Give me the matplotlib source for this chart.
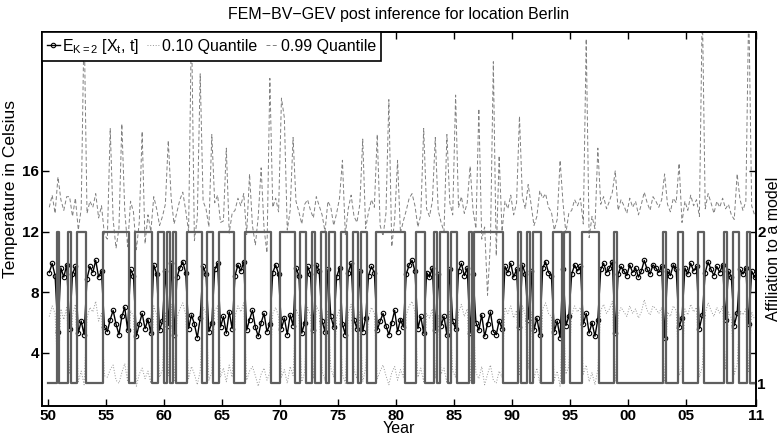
import matplotlib
matplotlib.use("Agg")
import matplotlib.pyplot as plt
import numpy as np
from matplotlib.lines import Line2D

plt.rcParams['font.family'] = ['Liberation Sans', 'DejaVu Sans']
plt.rcParams['mathtext.fontset'] = 'custom'
plt.rcParams['mathtext.rm'] = 'Liberation Sans'
plt.rcParams['mathtext.it'] = 'Liberation Sans'

# quarterly samples starting 1950
start_year = 1950
per_year = 4

# affiliation to model (1 or 2), one char per quarter
state = ("1112111211" "2221111112" "2222222211" "2222221122" "1212111122"
         "2221122112" "2222111122" "2222222111" "2222211221" "1211221221"
         "1221122122" "1112222222" "2221111222" "1112122212" "2111121222"
         "2222222111" "1121121222" "1111222122" "1111222222" "1111121111"
         "1111111111" "1121111221" "1111221111" "1112112211" "1211")

# E_{K=2}[X_t, t]
mean_t = [
    9.3, 9.9, 9.1, 5.4, 9.6, 9.0, 9.8, 5.6, 9.2, 9.7,
    5.3, 6.1, 5.2, 8.9, 9.7, 9.3, 10.1, 9.0, 9.4, 5.7,
    5.4, 6.2, 6.8, 5.9, 5.2, 6.4, 7.0, 5.5, 9.5, 9.1,
    5.1, 5.9, 6.6, 5.6, 6.2, 5.3, 9.8, 9.2, 5.5, 6.1,
    9.4, 5.8, 9.9, 5.2, 9.0, 9.6, 10.0, 9.3, 5.6, 6.5,
    5.9, 5.0, 6.3, 9.7, 9.2, 5.4, 6.0, 9.5, 9.9, 5.7,
    6.4, 5.3, 6.7, 5.6, 9.1, 9.8, 9.4, 10.0, 5.5, 6.2,
    6.8, 5.7, 5.1, 6.0, 6.6, 5.4, 5.9, 9.3, 9.8, 9.2,
    5.6, 6.3, 5.2, 6.5, 5.8, 9.6, 9.1, 5.3, 6.0, 9.7,
    9.2, 5.5, 9.8, 9.4, 6.1, 5.4, 9.5, 6.4, 5.7, 9.0,
    9.6, 5.9, 5.2, 9.3, 9.9, 6.2, 5.6, 9.4, 5.4, 6.3,
    9.1, 9.7, 9.3, 5.5, 6.1, 6.6, 5.8, 5.2, 6.0, 6.8,
    5.4, 6.2, 5.7, 9.2, 9.8, 10.1, 9.4, 5.6, 6.4, 5.3,
    9.3, 9.0, 9.6, 5.5, 9.2, 5.8, 6.4, 5.2, 9.5, 6.1,
    5.6, 9.4, 9.9, 9.1, 9.6, 5.3, 9.2, 6.0, 5.5, 6.5,
    5.1, 5.9, 6.7, 5.4, 5.2, 6.1, 5.6, 9.7, 9.3, 9.9,
    9.0, 9.5, 5.7, 9.8, 9.2, 6.2, 9.4, 5.5, 6.3, 5.2,
    9.6, 10.0, 9.3, 9.1, 5.4, 6.1, 5.0, 9.5, 5.8, 6.4,
    9.2, 9.8, 9.4, 9.7, 5.9, 6.6, 5.3, 6.0, 5.1, 6.2,
    9.5, 9.9, 9.3, 9.6, 10.0, 5.3, 9.2, 9.7, 9.4, 9.1,
    9.8, 9.3, 9.6, 9.0, 9.4, 10.1, 9.5, 9.2, 9.8, 9.6,
    9.3, 9.7, 5.0, 9.4, 9.1, 9.8, 9.5, 5.7, 6.3, 9.6,
    9.2, 9.9, 9.4, 9.7, 5.6, 6.5, 9.3, 10.0, 9.5, 9.1,
    9.7, 9.3, 9.8, 6.2, 9.4, 9.0, 5.8, 6.6, 9.5, 9.2,
    9.6, 5.9, 9.4, 9.0,
]

# 0.10 quantile
q10 = [
    6.4, 7.1, 6.6, 2.3, 6.9, 6.2, 7.0, 2.6, 6.5, 7.2,
    2.1, 2.8, 1.9, 6.3, 7.0, 6.7, 7.4, 6.1, 6.6, 2.5,
    2.4, 2.9, 3.2, 2.2, 2.0, 2.7, 3.3, 2.1, 6.8, 6.4,
    1.8, 2.6, 3.0, 2.3, 2.8, 2.0, 7.1, 6.5, 2.4, 2.9,
    6.7, 2.5, 7.2, 2.1, 6.3, 6.9, 7.3, 6.5, 2.3, 3.1,
    2.6, 1.9, 2.8, 7.0, 6.6, 2.2, 2.7, 6.8, 7.1, 2.4,
    3.0, 2.1, 3.2, 2.4, 6.4, 7.1, 6.7, 7.3, 2.2, 2.8,
    3.1, 2.5, 1.8, 2.6, 3.0, 2.2, 2.7, 6.6, 7.0, 6.4,
    2.4, 2.9, 2.0, 3.1, 2.5, 6.9, 6.4, 2.1, 2.7, 7.0,
    6.5, 2.3, 7.1, 6.7, 2.8, 2.2, 6.8, 3.0, 2.4, 6.3,
    6.9, 2.6, 2.0, 6.6, 7.2, 2.9, 2.3, 6.7, 2.1, 3.0,
    6.4, 7.0, 6.6, 2.3, 2.8, 3.2, 2.5, 1.9, 2.7, 3.1,
    2.2, 2.9, 2.4, 6.5, 7.1, 7.4, 6.7, 2.4, 3.0, 2.1,
    6.6, 6.3, 6.9, 2.3, 6.5, 2.6, 3.0, 2.0, 6.8, 2.8,
    2.4, 6.7, 7.2, 6.4, 6.9, 2.1, 6.5, 2.7, 2.3, 3.1,
    1.9, 2.6, 3.2, 2.2, 2.0, 2.8, 2.4, 7.0, 6.6, 7.1,
    6.3, 6.8, 2.5, 7.1, 6.5, 2.9, 6.7, 2.3, 3.0, 2.0,
    6.9, 7.3, 6.6, 6.4, 2.2, 2.8, 1.8, 6.8, 2.6, 3.1,
    6.5, 7.1, 6.7, 7.0, 2.6, 3.2, 2.1, 2.7, 1.9, 2.9,
    6.8, 7.2, 6.6, 6.9, 7.4, 2.1, 6.5, 7.0, 6.7, 6.4,
    7.1, 6.6, 6.9, 6.3, 6.7, 7.5, 6.8, 6.5, 7.1, 6.9,
    6.6, 7.0, 2.0, 6.7, 6.4, 7.1, 6.8, 2.5, 3.0, 6.9,
    6.5, 7.2, 6.7, 7.0, 2.4, 3.1, 6.6, 7.3, 6.8, 6.4,
    7.0, 6.6, 7.1, 2.9, 6.7, 6.3, 2.6, 3.2, 6.8, 6.5,
    6.9, 2.7, 6.7, 6.2,
]

# 0.99 quantile
q99 = [
    13.6, 14.4, 13.2, 15.6, 14.1, 13.4, 14.3, 14.3, 13.0, 14.2,
    12.1, 13.5, 26.0, 13.2, 14.0, 13.6, 14.5, 12.9, 13.7, 11.8,
    11.5, 18.8, 12.8, 10.9, 12.2, 19.1, 13.4, 11.0, 14.0, 13.3,
    10.8, 12.6, 18.6, 11.2, 13.1, 12.0, 14.3, 13.5, 12.4, 13.0,
    13.8, 18.0, 14.2, 12.5, 13.3, 14.1, 14.6, 13.4, 12.0, 26.0,
    11.4, 12.9, 22.4, 14.0, 13.5, 12.3, 18.4, 13.9, 14.4, 12.6,
    12.7, 17.5, 11.9, 13.2, 13.4, 14.2, 13.7, 14.5, 11.8, 15.8,
    12.4, 11.1, 13.0, 16.2, 12.2, 10.6, 22.1, 13.6, 14.2, 13.3,
    20.8, 19.5, 12.1, 13.4, 18.2, 14.0, 13.3, 12.5, 13.8, 14.1,
    13.4, 12.9, 14.3, 13.7, 13.1, 12.0, 14.0, 13.6, 12.4, 13.2,
    14.2, 16.7, 11.8, 13.5, 14.4, 13.0, 12.6, 13.8, 18.1, 12.2,
    13.3, 14.1, 13.6, 18.4, 12.4, 11.7, 13.2, 20.7, 11.0, 12.8,
    16.7, 11.9, 12.7, 13.4, 14.2, 14.5, 13.7, 12.3, 13.1, 18.8,
    13.5, 13.0, 14.0, 18.2, 13.4, 12.6, 12.0, 18.4, 13.9, 13.1,
    21.0, 13.6, 14.3, 13.2, 13.9, 16.3, 13.4, 12.2, 20.1, 11.5,
    12.3, 7.8, 11.3, 23.2, 10.4, 17.0, 12.0, 14.0, 13.5, 14.4,
    13.1, 13.9, 19.6, 14.3, 13.5, 15.1, 13.8, 12.4, 13.0, 14.7,
    14.2, 14.5, 13.6, 13.3, 12.1, 12.8, 16.7, 13.9, 11.9, 13.2,
    13.4, 14.1, 13.7, 14.2, 12.5, 24.7, 11.6, 13.0, 12.2, 17.5,
    13.8, 14.3, 13.5, 14.0, 14.6, 16.0, 13.4, 14.1, 13.7, 13.2,
    14.2, 13.6, 14.0, 13.1, 13.8, 14.6, 13.9, 13.4, 14.3, 14.0,
    13.6, 14.1, 15.8, 13.8, 13.3, 14.2, 13.9, 16.5, 12.6, 14.0,
    13.4, 14.4, 13.7, 14.1, 13.0, 27.0, 13.5, 14.5, 13.9, 13.2,
    14.0, 13.6, 14.2, 13.5, 13.8, 13.1, 12.8, 15.8, 14.1, 13.4,
    14.0, 27.0, 13.7, 13.1,
]

year_ticks = [1950, 1955, 1960, 1965, 1970, 1975, 1980, 1985, 1990, 1995, 2000, 2005, 2011]
year_labels = ['50', '55', '60', '65', '70', '75', '80', '85', '90', '95', '00', '05', '11']

aff = np.array([int(c) for c in state])
t = start_year + np.arange(len(aff)) / per_year
tc = t + 0.5 / per_year

fig = plt.figure(figsize=(7.81, 4.38), dpi=100)
ax1 = fig.add_axes([0.0538, 0.0731, 0.9142, 0.8539])

q99_style = dict(color='#808080', lw=0.7, ls=(0, (4, 2.5)))
q10_style = dict(color='#959595', lw=0.7, ls=(0, (1, 1.8)))
mean_style = dict(color='black', lw=1.0, marker='o', ms=3.2, mfc='none', mec='black', mew=0.8)

ax1.plot(tc, q99, **q99_style)
ax1.plot(tc, q10, **q10_style)
ax1.plot(tc, mean_t, **mean_style)

ax1.set_xlim(1949.5, 2011.0)
ax1.set_ylim(0.5, 25.16)
ax1.set_yticks([4, 8, 12, 16])
ax1.set_yticklabels(['4', '8', '12', '16'], fontweight='bold', fontsize=11)
ax1.set_xticks(year_ticks)
ax1.set_xticklabels(year_labels, fontweight='bold', fontsize=11)
ax1.tick_params(direction='in', length=5, width=1, top=True, right=False, pad=2)
ax1.set_xlabel('Year', fontsize=11.5, labelpad=-1)
ax1.set_ylabel('Temperature in Celsius', fontsize=12.5)
ax1.yaxis.set_label_coords(-0.033, 0.58)
ax1.set_title('FEM\u2212BV\u2212GEV post inference for location Berlin', fontsize=11.5, pad=9)

ax2 = ax1.twinx()
ax2.step(np.append(t, 2011.0), np.append(aff, aff[-1]), where='post',
         color='#5f5f5f', lw=1.6)
ax2.set_ylim(0.85, 3.316)
ax2.set_yticks([1, 1.2, 1.6, 2, 2.4])
ax2.set_yticklabels(['1', '', '', '2', ''], fontweight='bold', fontsize=11)
ax2.tick_params(direction='in', length=5, width=1, pad=1)
ax2.set_ylabel('Affiliation to a model', fontsize=11.5, rotation=90)
ax2.yaxis.set_label_coords(1.0145, 0.42)

for ax in (ax1, ax2):
    for s in ax.spines.values():
        s.set_linewidth(1.2)

handles = [Line2D([], [], **mean_style), Line2D([], [], **q10_style), Line2D([], [], **q99_style)]
labels = [r'E$_\mathregular{K=2}$ [X$_\mathregular{t}$, t]', '0.10 Quantile', '0.99 Quantile']
leg = ax2.legend(handles, labels, loc='upper left', ncol=3, borderaxespad=0,
                 fancybox=False, edgecolor='black', framealpha=1, fontsize=11.5,
                 handlelength=0.8, handletextpad=0.15, columnspacing=0.5,
                 borderpad=0.3)
leg.get_frame().set_linewidth(1.2)

fig.savefig('out.png', dpi=100)
